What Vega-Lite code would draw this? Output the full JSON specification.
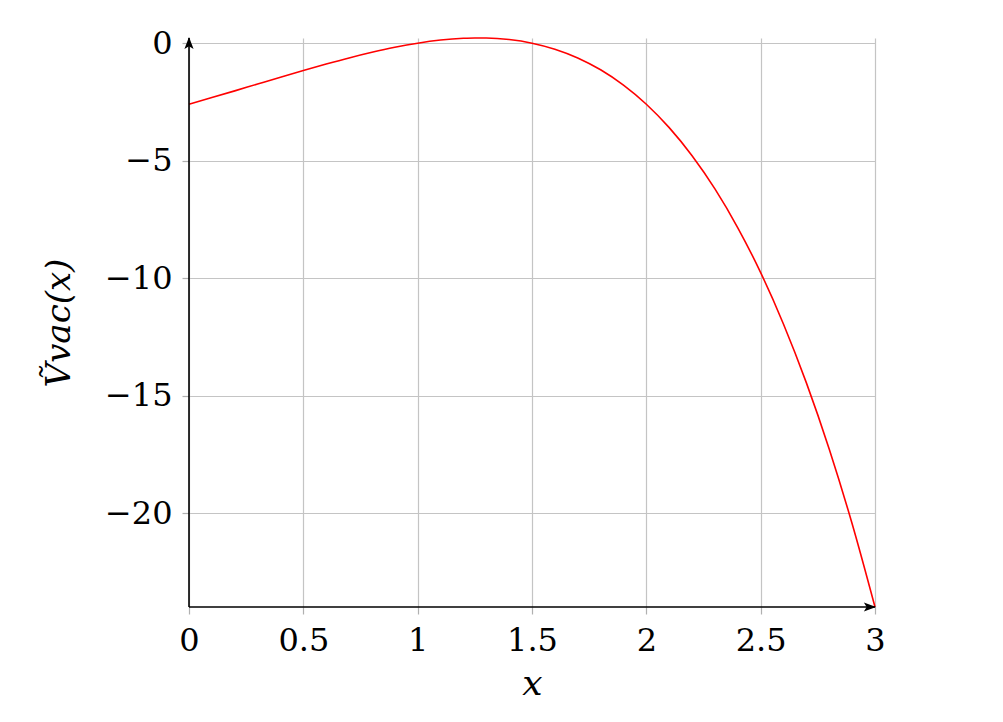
{
  "$schema": "https://vega.github.io/schema/vega-lite/v6.json",
  "autosize": "none",
  "width": 686,
  "height": 569,
  "padding": {"left": 189, "top": 38, "right": 128, "bottom": 115},
  "background": "white",
  "config": {
    "view": {"stroke": null},
    "font": "DejaVu Serif",
    "axis": {
      "labelFont": "DejaVu Serif",
      "titleFont": "DejaVu Serif",
      "labelFontSize": 32,
      "labelColor": "black",
      "titleColor": "black",
      "gridColor": "#c4c4c4",
      "gridWidth": 1.2,
      "gridOpacity": 1,
      "tickColor": "#b0b0b0",
      "tickSize": 7,
      "tickWidth": 1.2,
      "domain": false
    }
  },
  "datasets": {
    "curve": [
      {"x": 0.0, "V": -2.600},
      {"x": 0.1, "V": -2.317},
      {"x": 0.2, "V": -2.030},
      {"x": 0.3, "V": -1.740},
      {"x": 0.4, "V": -1.451},
      {"x": 0.5, "V": -1.167},
      {"x": 0.6, "V": -0.891},
      {"x": 0.7, "V": -0.629},
      {"x": 0.8, "V": -0.389},
      {"x": 0.9, "V": -0.176},
      {"x": 1.0, "V": 0.0},
      {"x": 1.1, "V": 0.132},
      {"x": 1.2, "V": 0.208},
      {"x": 1.25, "V": 0.223},
      {"x": 1.3, "V": 0.220},
      {"x": 1.4, "V": 0.154},
      {"x": 1.5, "V": 0.0},
      {"x": 1.6, "V": -0.257},
      {"x": 1.7, "V": -0.630},
      {"x": 1.8, "V": -1.134},
      {"x": 1.9, "V": -1.786},
      {"x": 2.0, "V": -2.600},
      {"x": 2.1, "V": -3.596},
      {"x": 2.2, "V": -4.792},
      {"x": 2.3, "V": -6.205},
      {"x": 2.4, "V": -7.858},
      {"x": 2.5, "V": -9.766},
      {"x": 2.6, "V": -11.962},
      {"x": 2.7, "V": -14.459},
      {"x": 2.8, "V": -17.282},
      {"x": 2.9, "V": -20.458},
      {"x": 3.0, "V": -24.0}
    ],
    "xaxisline": [{"x": 0, "V": -24}, {"x": 3, "V": -24}],
    "yaxisline": [{"x": 0, "V": -24}, {"x": 0, "V": 0.22}],
    "arrows": [
      {"x": 3, "V": -24, "dir": "right"},
      {"x": 0, "V": 0.22, "dir": "up"}
    ]
  },
  "encoding": {
    "x": {
      "field": "x", "type": "quantitative",
      "scale": {"domain": [0, 3], "nice": false, "zero": false},
      "axis": {
        "values": [0, 0.5, 1, 1.5, 2, 2.5, 3],
        "format": "~g",
        "title": "x",
        "titleFontStyle": "italic",
        "titleFontWeight": "normal",
        "titleFontSize": 36,
        "titlePadding": 10,
        "labelPadding": 11,
        "labelFlush": false,
        "grid": true
      }
    },
    "y": {
      "field": "V", "type": "quantitative",
      "scale": {"domain": [-24, 0.22], "nice": false, "zero": false},
      "axis": {
        "values": [0, -5, -10, -15, -20],
        "format": "~g",
        "title": "Ṽvac(x)",
        "titleFontStyle": "italic",
        "titleFontWeight": "normal",
        "titleFontSize": 34,
        "titlePadding": 28,
        "labelPadding": 10,
        "labelFlush": false,
        "grid": true
      }
    }
  },
  "layer": [
    {
      "data": {"name": "curve"},
      "mark": {"type": "line", "color": "#ff0000", "strokeWidth": 1.6, "interpolate": "monotone", "clip": false}
    },
    {
      "data": {"name": "xaxisline"},
      "mark": {"type": "line", "color": "black", "strokeWidth": 1.6}
    },
    {
      "data": {"name": "yaxisline"},
      "mark": {"type": "line", "color": "black", "strokeWidth": 1.6}
    },
    {
      "data": {"name": "arrows"},
      "transform": [{"filter": "datum.dir === 'right'"}],
      "mark": {"type": "point", "shape": "M-1,-0.75 L1,0 L-1,0.75 L-0.55,0 Z", "filled": true, "color": "black", "opacity": 1, "size": 150, "xOffset": -5}
    },
    {
      "data": {"name": "arrows"},
      "transform": [{"filter": "datum.dir === 'up'"}],
      "mark": {"type": "point", "shape": "M-0.75,1 L0,-1 L0.75,1 L0,0.55 Z", "filled": true, "color": "black", "opacity": 1, "size": 150, "yOffset": 5}
    }
  ]
}
